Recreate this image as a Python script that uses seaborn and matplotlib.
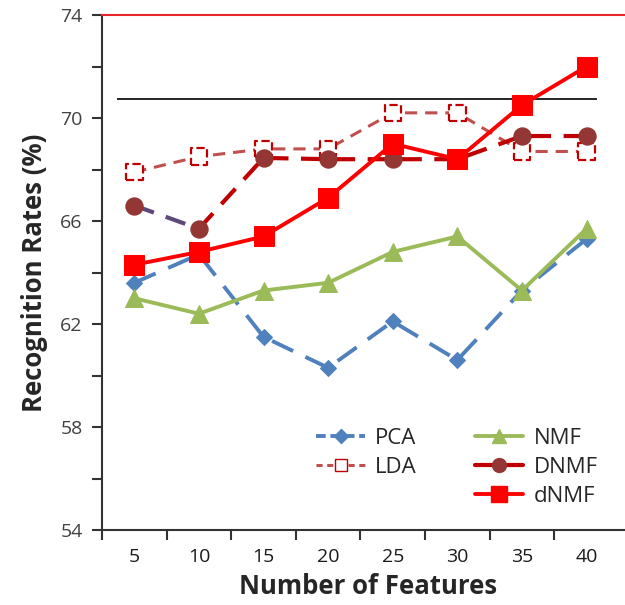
import numpy as np
import pandas as pd
import matplotlib
matplotlib.use("Agg")
import matplotlib.pyplot as plt
from matplotlib.lines import Line2D
import seaborn as sns

# data
features = [5, 10, 15, 20, 25, 30, 35, 40]
pca = [63.6, 64.7, 61.5, 60.3, 62.1, 60.6, 63.3, 65.3]
lda = [67.9, 68.5, 68.8, 68.8, 70.2, 70.2, 68.7, 68.7]
nmf = [63.0, 62.4, 63.3, 63.6, 64.8, 65.4, 63.3, 65.7]
dnmf_upper = [66.6, 65.7, 68.45, 68.4, 68.4, 68.4, 69.3, 69.3]  # "DNMF"
dnmf_lower = [64.3, 64.8, 65.4, 66.9, 69.0, 68.4, 70.5, 72.0]  # "dNMF"
ref_level = 70.75
y_ticks = [54, 58, 62, 66, 70, 74]

sns.set_style("ticks")
plt.rcParams['font.family'] = ['Open Sans', 'DejaVu Sans']

BLUE = '#4F81BD'
LDA_RED = '#C0504D'
GREEN = '#9BBB59'
DARK_RED = '#C00000'
CIRCLE = '#943634'
PURPLE = '#5F497A'
RED = '#FF0000'

pos = np.arange(1, len(features) + 1)
df = pd.DataFrame({'pos': pos, 'PCA': pca, 'LDA': lda, 'NMF': nmf,
                   'DNMF': dnmf_upper, 'dNMF': dnmf_lower})

fig = plt.figure(figsize=(6.25, 6.05), dpi=100)
ax = fig.add_axes([102 / 625, 1 - 530 / 605, 533 / 625, 515 / 605])

# PCA
sns.lineplot(data=df, x='pos', y='PCA', ax=ax, color=BLUE, lw=2.8,
             linestyle=(0, (6, 3.5)), marker='D', markersize=8,
             markeredgecolor=BLUE, zorder=2)
# LDA
sns.lineplot(data=df, x='pos', y='LDA', ax=ax, color=LDA_RED, lw=2.2,
             linestyle=(0, (4, 2.6)), zorder=3)
sns.scatterplot(data=df, x='pos', y='LDA', ax=ax, marker='s', s=140,
                facecolor='white', edgecolor=DARK_RED, linestyle='--',
                linewidth=1.6, zorder=3.1)
# NMF
sns.lineplot(data=df, x='pos', y='NMF', ax=ax, color=GREEN, lw=2.8,
             marker='^', markersize=13, markeredgecolor=GREEN, zorder=4)
# DNMF
sns.lineplot(data=df.iloc[:2], x='pos', y='DNMF', ax=ax, color=PURPLE, lw=3.0,
             linestyle=(0, (5, 3)), zorder=5)
sns.lineplot(data=df.iloc[1:], x='pos', y='DNMF', ax=ax, color=DARK_RED, lw=3.0,
             linestyle=(0, (5, 3)), zorder=5)
sns.scatterplot(data=df, x='pos', y='DNMF', ax=ax, marker='o', s=150,
                color=CIRCLE, edgecolor=CIRCLE, zorder=5.1)
# dNMF
sns.lineplot(data=df, x='pos', y='dNMF', ax=ax, color=RED, lw=2.8,
             marker='s', markersize=14, markeredgecolor=RED, zorder=6)

# reference line
ax.hlines(ref_level, 0.73, 8.16, color='black', lw=1.2, zorder=1)

ax.set_xlim(0.5, 8.75)
ax.set_ylim(54, 74)

ax.set_xticks(pos)
ax.set_xticklabels([str(f) for f in features])
ax.set_xticks(np.arange(0.5, len(features)), minor=True)
ax.tick_params(axis='x', which='major', length=0, pad=13, labelsize=14,
               labelcolor='#1a1a1a')
ax.tick_params(axis='x', which='minor', length=7, width=1.5, color='#333333',
               direction='out')

ax.set_yticks(y_ticks)
ax.set_yticks(np.arange(56, 74, 4), minor=True)
ax.tick_params(axis='y', which='both', length=7, width=1.5, color='#333333',
               direction='out', pad=7)
ax.tick_params(axis='y', which='major', labelsize=14, labelcolor='#404040')

for s in ['left', 'bottom']:
    ax.spines[s].set_color('#333333')
    ax.spines[s].set_linewidth(1.5)
ax.spines['right'].set_visible(False)
ax.spines['top'].set_color('#E8242A')
ax.spines['top'].set_linewidth(1.5)

ax.set_xlabel('Number of Features', fontsize=18.5, fontweight='bold', labelpad=5)
ax.set_ylabel('Recognition Rates (%)', fontsize=18.5, fontweight='bold', labelpad=9)

handles = [
    Line2D([], [], color=BLUE, lw=2.8, linestyle=(0, (2.5, 1.2)), marker='D',
           markersize=7),
    Line2D([], [], color=LDA_RED, lw=2.2, linestyle=(0, (2, 1.5)), marker='s',
           markersize=8, markerfacecolor='white', markeredgecolor=DARK_RED),
    Line2D([], [], color='none'),
    Line2D([], [], color=GREEN, lw=2.8, marker='^', markersize=10),
    Line2D([], [], color=DARK_RED, lw=3.0, marker='o', markersize=10,
           markerfacecolor=CIRCLE, markeredgecolor=CIRCLE),
    Line2D([], [], color=RED, lw=2.8, marker='s', markersize=11),
]
labels = ['PCA', 'LDA', '', 'NMF', 'DNMF', 'dNMF']
fig.legend(handles, labels, ncol=2, loc='upper left',
           bbox_to_anchor=(305 / 625, 1 - 417 / 605), frameon=False,
           fontsize=16, handlelength=2.2, handletextpad=0.45,
           columnspacing=2.6, labelspacing=0.35, borderpad=0)

fig.savefig('out.png', dpi=100)
